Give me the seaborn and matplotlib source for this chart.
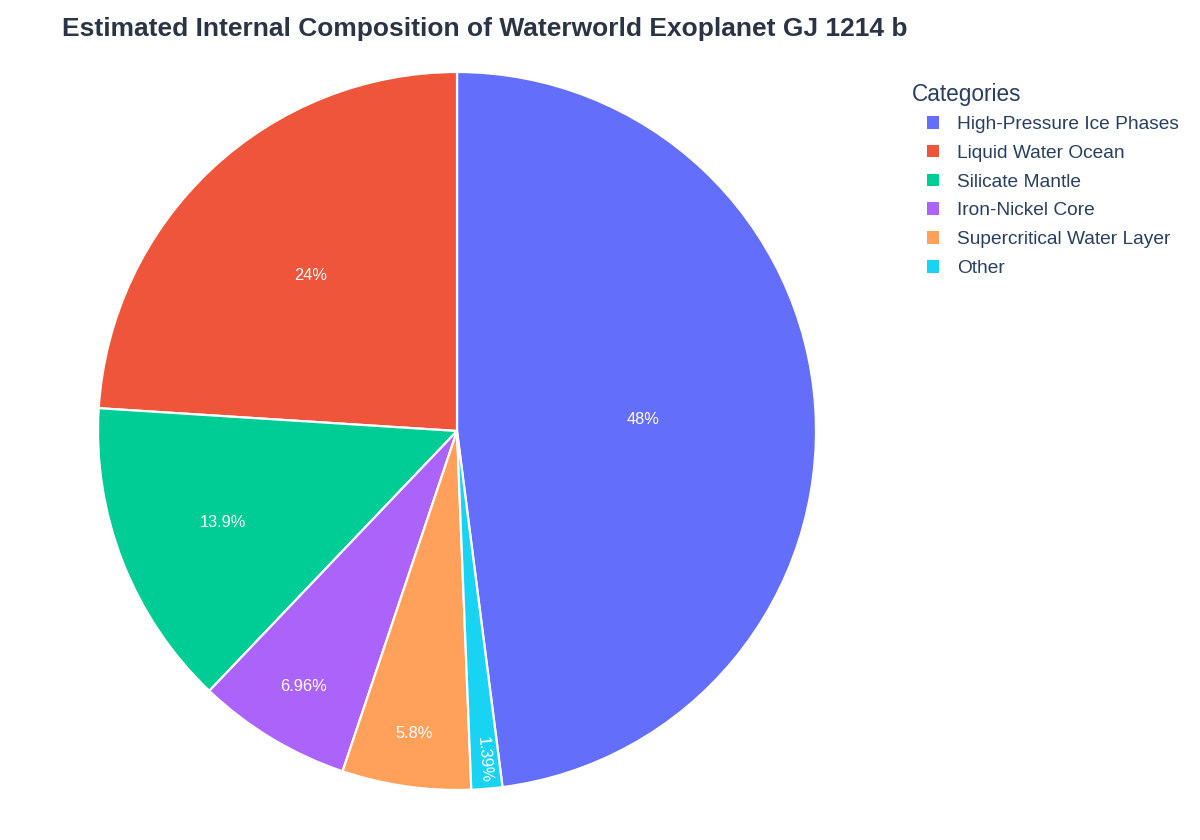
import matplotlib
matplotlib.use("Agg")
import matplotlib.pyplot as plt
import seaborn as sns
import numpy as np
from matplotlib.patches import Patch

categories = ["High-Pressure Ice Phases", "Liquid Water Ocean", "Silicate Mantle",
              "Iron-Nickel Core", "Supercritical Water Layer", "Other"]
values = [48, 24, 13.9, 6.96, 5.8, 1.39]
colors = ["#636efa", "#EF553B", "#00cc96", "#ab63fa", "#FFA15A", "#19d3f3"]
label_radius = [0.52, 0.595, 0.70, 0.83, 0.85, 0.92]

sns.set_theme(style="white")
plt.rcParams["font.family"] = ["Liberation Sans", "DejaVu Sans"]

fig = plt.figure(figsize=(12, 8.4), dpi=100)
R = 359
cx, cy = 457, 431
ax = fig.add_axes([(cx - R) / 1200, (840 - cy - R) / 840, 2 * R / 1200, 2 * R / 840])

total = sum(values)
start = 90 - 360 * values[0] / total
wedges, _ = ax.pie(values, colors=colors, startangle=start, counterclock=True,
                   wedgeprops=dict(edgecolor="white", linewidth=1.6))
ax.set_xlim(-1, 1)
ax.set_ylim(-1, 1)
ax.set_aspect("equal")
ax.axis("off")

for w, v, r in zip(wedges, values, label_radius):
    mid = np.deg2rad((w.theta1 + w.theta2) / 2)
    txt = "{:.3g}%".format(100 * v / total)
    rot = 0
    if v / total < 0.03:
        rot = np.rad2deg(mid)
        if rot > 90:
            rot -= 360
    ax.text(r * np.cos(mid), r * np.sin(mid), txt, color="white", fontsize=11.8,
            ha="center", va="center", rotation=rot, rotation_mode="anchor")

fig.text(62 / 1200, 1 - 29 / 840, "Estimated Internal Composition of Waterworld Exoplanet GJ 1214 b",
         fontsize=19, fontweight="bold", color="#2a3445", ha="left", va="center")

fig.text(912 / 1200, 1 - 94 / 840, "Categories", fontsize=16.3, color="#2a3f5f",
         ha="left", va="center")

handles = [Patch(facecolor=c, edgecolor="none") for c in colors]
leg = fig.legend(handles, categories, loc="upper left", bbox_to_anchor=(927 / 1200, 1 - 116 / 840),
                 frameon=False, fontsize=13.8,
                 handlelength=0.63, handleheight=0.63, handletextpad=0.94, labelspacing=0.615,
                 borderaxespad=0, borderpad=0)
for t in leg.get_texts():
    t.set_color("#2a3f5f")

fig.savefig("out.png", dpi=100, facecolor="white")
